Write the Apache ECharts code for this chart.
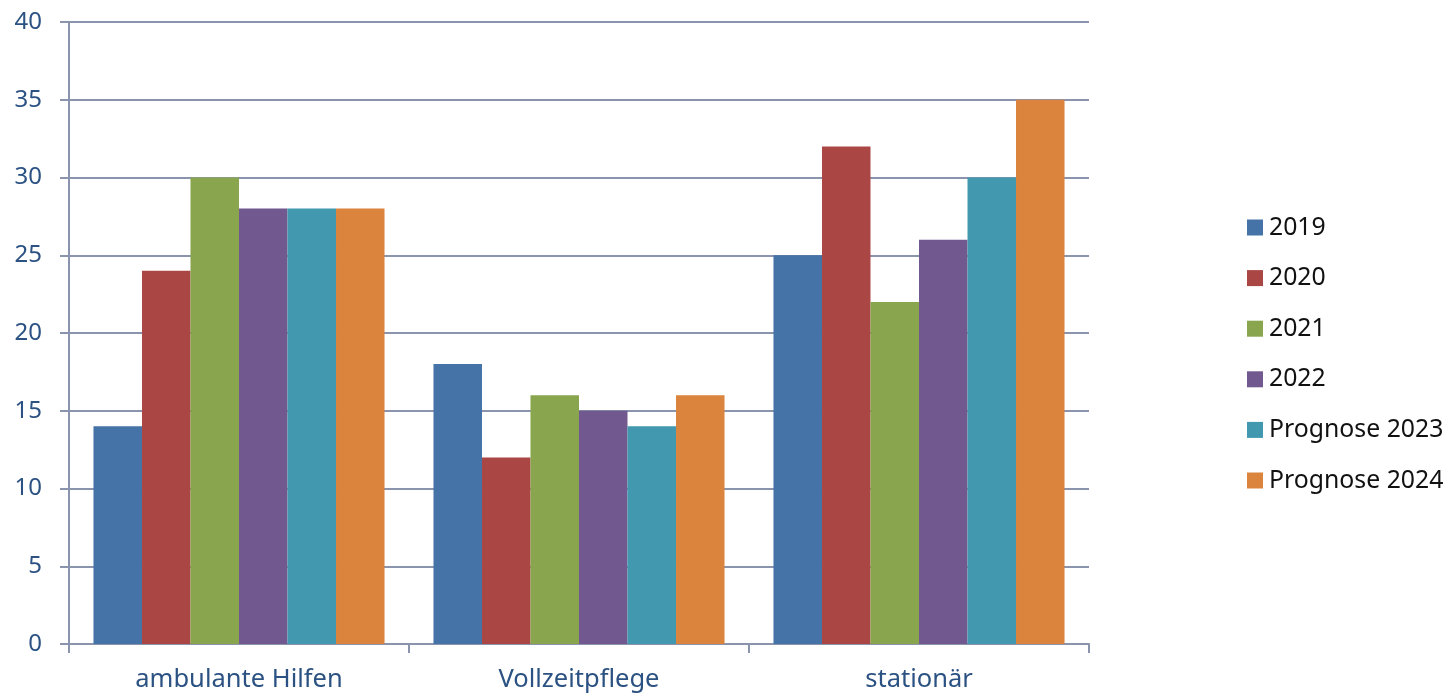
<!DOCTYPE html>
<html>
<head>
<meta charset="utf-8">
<script src="https://cdn.jsdelivr.net/npm/echarts@6/dist/echarts.min.js"></script>
<style>
  html, body { margin: 0; padding: 0; background: #ffffff; }
  #chart { width: 1455px; height: 696px; }
</style>
</head>
<body>
<div id="chart"></div>
<script>
// Categories on the x axis
const categories = ['ambulante Hilfen', 'Vollzeitpflege', 'stationär'];

// Series names (legend entries)
const seriesNames = ['2019', '2020', '2021', '2022', 'Prognose 2023', 'Prognose 2024'];

// Values per series, one per category
const values2019 = [14, 18, 25];
const values2020 = [24, 12, 32];
const values2021 = [30, 16, 22];
const values2022 = [28, 15, 26];
const values2023 = [28, 14, 30];
const values2024 = [28, 16, 35];

const seriesValues = [values2019, values2020, values2021, values2022, values2023, values2024];
const seriesColors = ['#4572A7', '#AA4643', '#89A54E', '#71588F', '#4198AF', '#DB843D'];

const axisColor = '#8a94ad';
const labelColor = '#2b5282';
const fontFamily = '"Noto Sans", "Open Sans", sans-serif';

const chart = echarts.init(document.getElementById('chart'));

chart.setOption({
  animation: false,
  textStyle: { fontFamily: fontFamily },
  grid: { left: 69, right: 366, top: 22, bottom: 52, containLabel: false },
  legend: {
    orient: 'vertical',
    left: 1247,
    top: 215,
    padding: 0,
    itemWidth: 16,
    itemHeight: 16,
    itemGap: 25.6,
    icon: 'rect',
    textStyle: { fontSize: 24.8, color: '#111111', fontFamily: fontFamily, lineHeight: 24, padding: [0, 0, 0, 1] },
    data: seriesNames
  },
  xAxis: {
    type: 'category',
    data: categories,
    axisLine: { lineStyle: { color: axisColor, width: 2 } },
    axisTick: { show: true, length: 9, lineStyle: { color: axisColor, width: 2 } },
    axisLabel: { fontSize: 25.5, color: labelColor, margin: 23, fontFamily: fontFamily }
  },
  yAxis: {
    type: 'value',
    min: 0,
    max: 40,
    interval: 5,
    axisLine: { show: true, lineStyle: { color: axisColor, width: 2 } },
    axisTick: { show: true, length: 9, lineStyle: { color: axisColor, width: 2 } },
    splitLine: { show: true, lineStyle: { color: axisColor, width: 2 } },
    axisLabel: { fontSize: 24, color: labelColor, margin: 27, fontFamily: fontFamily }
  },
  series: seriesNames.map((name, i) => ({
    name: name,
    type: 'bar',
    data: seriesValues[i],
    barGap: '0%',
    barCategoryGap: '14.4%',
    itemStyle: { color: seriesColors[i] }
  }))
});
</script>
</body>
</html>
